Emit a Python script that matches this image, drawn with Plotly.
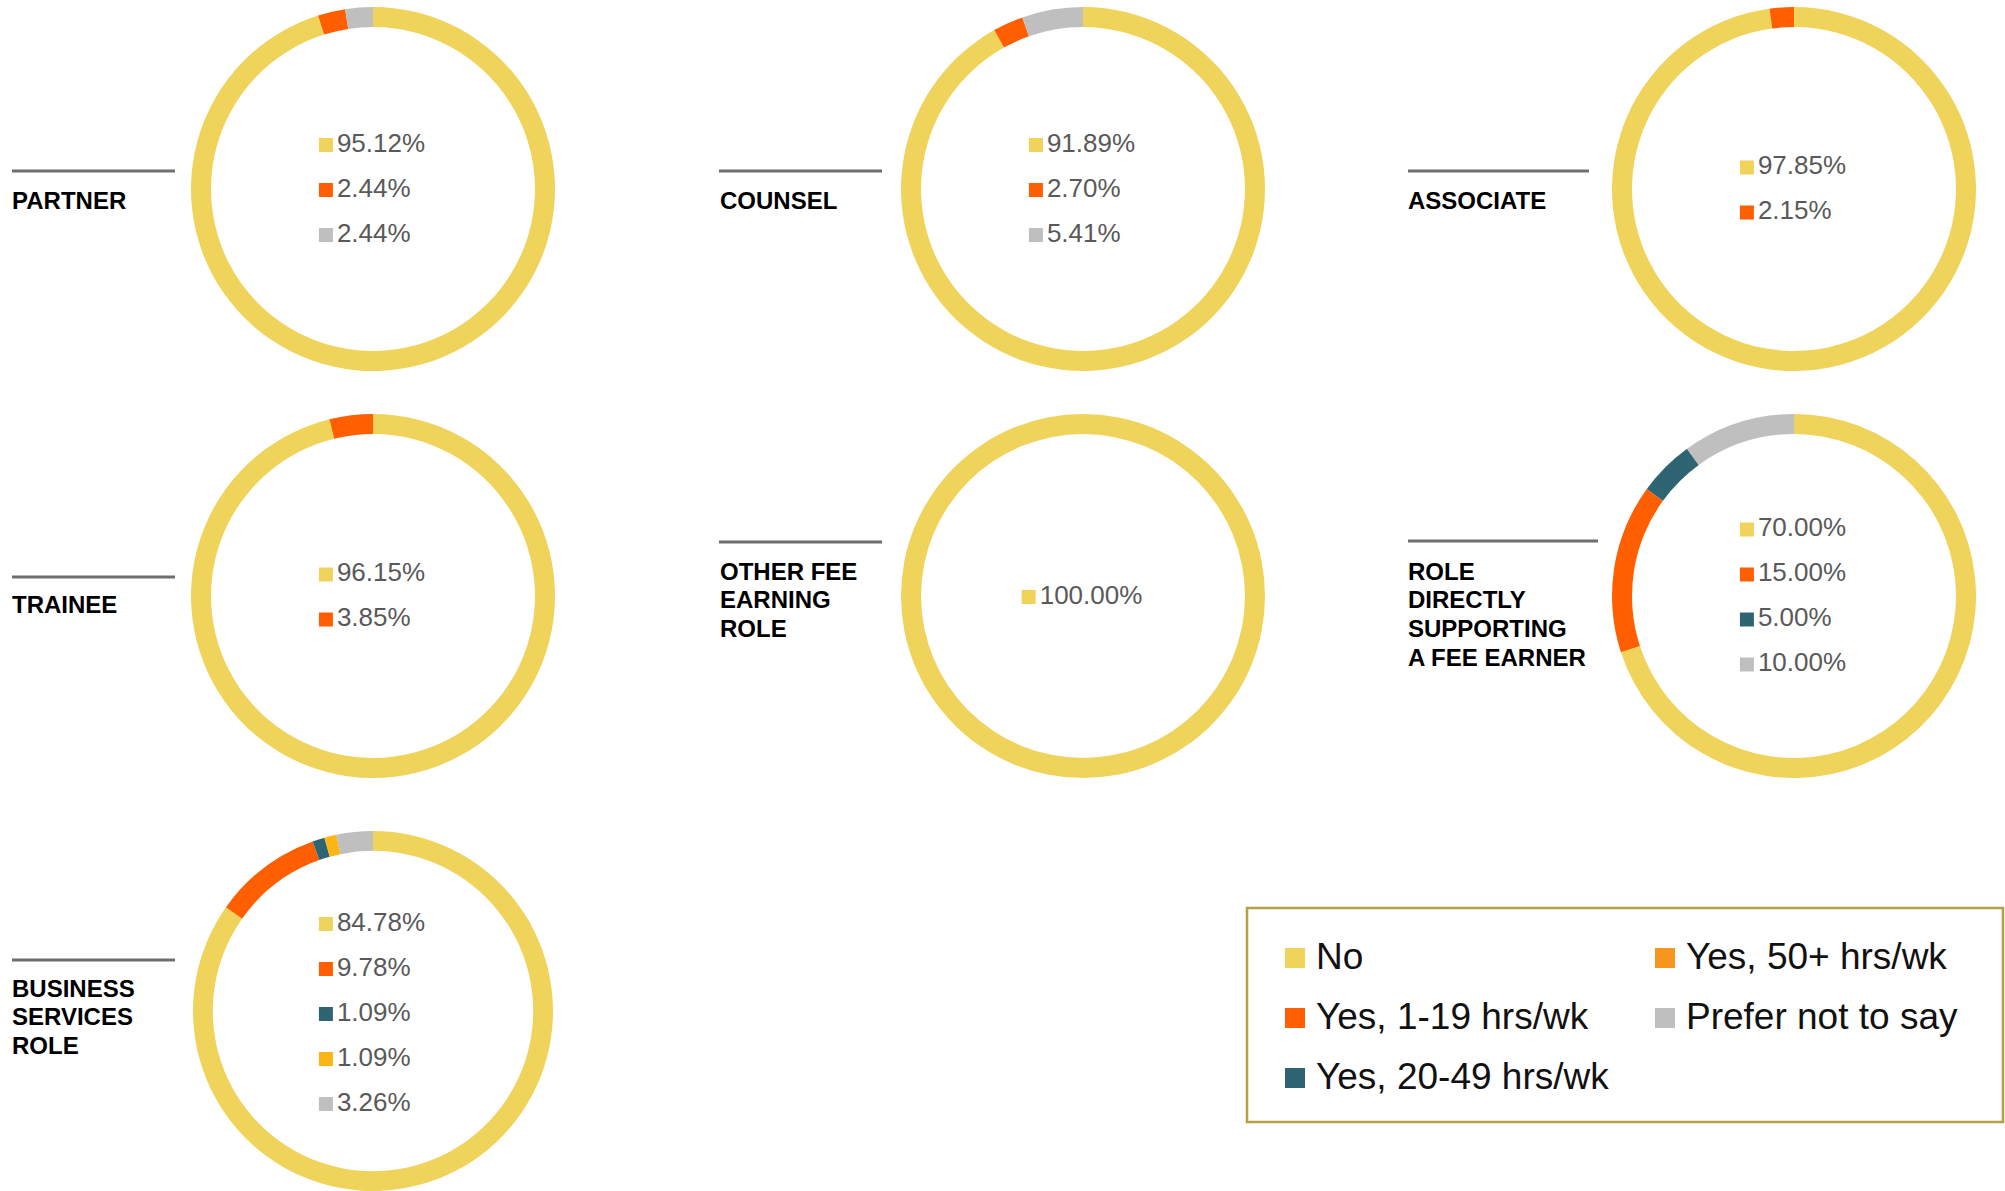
import plotly.graph_objects as go

W, H = 2005, 1191
FONT = "Liberation Sans, Arial, sans-serif"

# Answer categories, in the order the slices run clockwise from 12 o'clock
categories = ["No", "Yes, 1-19 hrs/wk", "Yes, 20-49 hrs/wk", "Yes, 50+ hrs/wk", "Prefer not to say"]
slice_colors = ["#EFD35B", "#FF5F00", "#2F6472", "#FDB515", "#BFBFBF"]
legend_colors = ["#EFD35B", "#FF5F00", "#2F6472", "#F7961E", "#BFBFBF"]

# Roles (titles as drawn, one entry per printed line)
role_titles = [
    ["PARTNER"],
    ["COUNSEL"],
    ["ASSOCIATE"],
    ["TRAINEE"],
    ["OTHER FEE", "EARNING", "ROLE"],
    ["ROLE", "DIRECTLY", "SUPPORTING", "A FEE EARNER"],
    ["BUSINESS", "SERVICES", "ROLE"],
]

# Share of respondents (%) per category, one list per role
partner = [95.12, 2.44, 0, 0, 2.44]
counsel = [91.89, 2.70, 0, 0, 5.41]
associate = [97.85, 2.15, 0, 0, 0]
trainee = [96.15, 3.85, 0, 0, 0]
other_fee_earning = [100.00, 0, 0, 0, 0]
directly_supporting = [70.00, 15.00, 5.00, 0, 10.00]
business_services = [84.78, 9.78, 1.09, 1.09, 3.26]

role_values = [partner, counsel, associate, trainee,
               other_fee_earning, directly_supporting, business_services]

# Page layout (pixels from top-left)
centers = [(373, 189), (1083, 189), (1794, 189),
           (373, 596), (1083, 596), (1794, 596),
           (373, 1013)]
R = 182
HOLE = 0.89
rule_x = [(12, 175), (719, 882), (1408, 1589), (12, 175),
          (719, 882), (1408, 1598), (12, 175)]
rule_y = [171, 171, 171, 577, 542, 541, 960]
title_x = [10, 718, 1406, 10, 718, 1406, 10]
title_y = [200, 200, 200, 604, 571, 571, 988]
TITLE_LINE = 28.8

PCT_SIZE = 26
ROW_GAP = 45
SWATCH = 14

fig = go.Figure()
shapes = []
annotations = []

for i, (title, vals) in enumerate(zip(role_titles, role_values)):
    cx, cy = centers[i]
    dom_x = [max(0.0, (cx - R) / W), min(1.0, (cx + R) / W)]
    dom_y = [max(0.0, 1 - (cy + R) / H), min(1.0, 1 - (cy - R) / H)]
    fig.add_trace(go.Pie(
        labels=categories, values=vals, hole=HOLE, sort=False,
        direction="clockwise", rotation=0,
        marker=dict(colors=slice_colors, line=dict(width=0)),
        textinfo="none", hoverinfo="label+percent", showlegend=False,
        domain=dict(x=dom_x, y=dom_y),
    ))

    # value list in the hole: swatch + percentage, block centred on the ring
    shown = [(v, c) for v, c in zip(vals, slice_colors) if v > 0]
    texts = [f"{v:.2f}%" for v, _ in shown]
    n = len(shown)
    longest = max(len(t) for t in texts)
    text_w = PCT_SIZE * (0.556 * (longest - 2) + 0.278 + 0.889)
    half = (SWATCH + 6 + text_w) / 2
    sq_x = cx - half + SWATCH / 2
    ys = [cy + 1 + (k - (n - 1) / 2) * ROW_GAP for k in range(n)]
    fig.add_trace(go.Scatter(
        x=[sq_x] * n, y=ys, mode="markers",
        marker=dict(symbol="square", size=SWATCH, color=[c for _, c in shown],
                    line=dict(width=0)),
        hoverinfo="skip", showlegend=False,
    ))
    fig.add_trace(go.Scatter(
        x=[sq_x + SWATCH / 2 + 4] * n, y=ys, mode="text", text=texts,
        textposition="middle right",
        textfont=dict(family=FONT, size=PCT_SIZE, color="#595959"),
        hoverinfo="skip", showlegend=False,
    ))

    # role title with a rule above it
    x0, x1 = rule_x[i]
    shapes.append(dict(type="line", xref="x", yref="y", x0=x0, x1=x1,
                       y0=rule_y[i], y1=rule_y[i],
                       line=dict(color="#6E6E6E", width=3)))
    for k, line in enumerate(title):
        annotations.append(dict(
            xref="x", yref="y", x=title_x[i], y=title_y[i] + k * TITLE_LINE,
            xanchor="left", yanchor="middle", align="left", showarrow=False,
            text=f"<b>{line}</b>",
            font=dict(family=FONT, size=24, color="#000000"),
        ))

# Legend box, two columns filled top to bottom
legend_cols = [(1295, 1320), (1665, 1690)]
legend_rows = [960, 1020, 1080]
leg_pos = [(0, 0), (0, 1), (0, 2), (1, 0), (1, 1)]
shapes.append(dict(type="rect", xref="x", yref="y", x0=1247, x1=2003, y0=908, y1=1122,
                   line=dict(color="#B5A048", width=2.5), fillcolor="rgba(0,0,0,0)"))
for (col, row), name, color in zip(leg_pos, categories, legend_colors):
    sx, tx = legend_cols[col]
    y = legend_rows[row]
    fig.add_trace(go.Scatter(
        x=[sx], y=[y - 2], mode="markers",
        marker=dict(symbol="square", size=20, color=color, line=dict(width=0)),
        hoverinfo="skip", showlegend=False,
    ))
    fig.add_trace(go.Scatter(
        x=[tx - 4], y=[y], mode="text", text=[name], textposition="middle right",
        textfont=dict(family=FONT, size=37, color="#111111"),
        hoverinfo="skip", showlegend=False,
    ))

fig.update_layout(
    width=W, height=H, autosize=False,
    margin=dict(l=0, r=0, t=0, b=0, pad=0),
    paper_bgcolor="#FFFFFF", plot_bgcolor="rgba(0,0,0,0)",
    xaxis=dict(range=[0, W], visible=False, fixedrange=True, domain=[0, 1]),
    yaxis=dict(range=[H, 0], visible=False, fixedrange=True, domain=[0, 1]),
    shapes=shapes, annotations=annotations,
    font=dict(family=FONT),
)

fig.write_html("out.html", config={"displayModeBar": False})
